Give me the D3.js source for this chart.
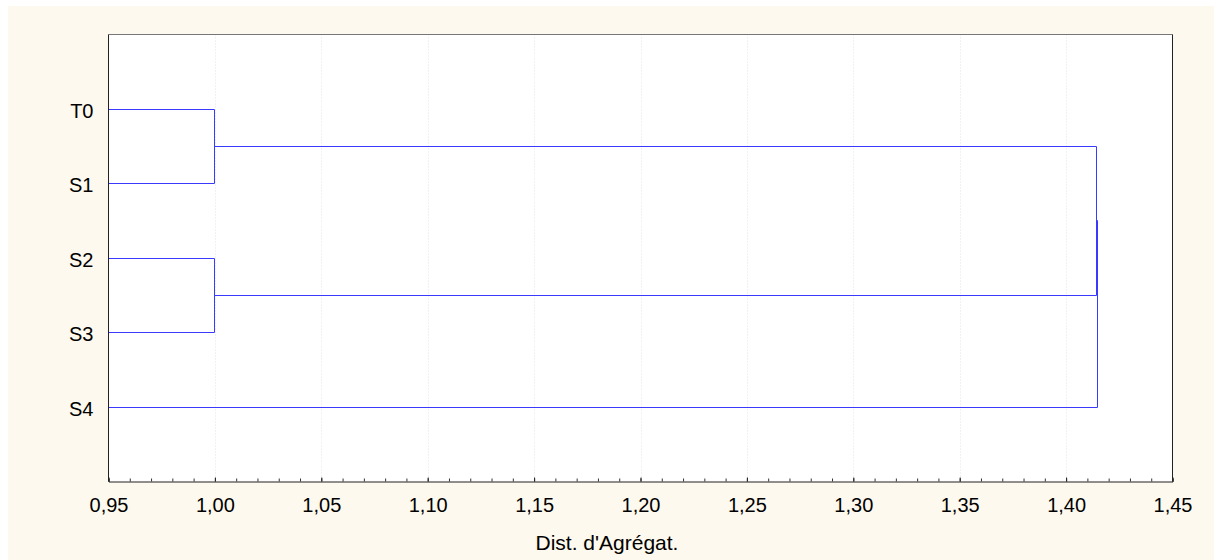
<!DOCTYPE html>
<html>
<head>
<meta charset="utf-8">
<script src="https://cdn.jsdelivr.net/npm/d3@7"></script>
<style>
  html, body { margin: 0; padding: 0; background: #ffffff; }
  svg { display: block; font-family: "Liberation Sans", Arial, sans-serif; }
</style>
</head>
<body>
<svg id="chart" width="1214" height="560"></svg>
<script>
// Leaves, top to bottom
const leaves = ["T0", "S1", "S2", "S3", "S4"];

// Agglomeration steps: [left member, right member, linkage distance]
// Members are leaf names or indices of earlier steps ("#0", "#1", ...)
const mergeLeft  = ["T0", "S2", "#0", "#2"];
const mergeRight = ["S1", "S3", "#1", "S4"];
const mergeDist  = [1.0, 1.0, 1.4142, 1.4146];

// Axis ticks
const tickValues = [0.95, 1.00, 1.05, 1.10, 1.15, 1.20, 1.25, 1.30, 1.35, 1.40, 1.45];
const xDomain = [0.95, 1.45];
const xTitle = "Dist. d'Agrégat.";

const svg = d3.select("#chart");
const W = 1214, H = 560;
const plot = { left: 108.5, right: 1172.5, top: 34.5, bottom: 481.5 };

// Cream page background
svg.append("rect")
  .attr("x", 8).attr("y", 6).attr("width", W - 8).attr("height", H - 6)
  .attr("fill", "#fef9ee");

// White plotting area
svg.append("rect")
  .attr("x", plot.left).attr("y", plot.top)
  .attr("width", plot.right - plot.left).attr("height", plot.bottom - plot.top)
  .attr("fill", "#ffffff");

const x = d3.scaleLinear().domain(xDomain).range([plot.left, plot.right]);
const y = d3.scalePoint().domain(leaves).range([plot.top, plot.bottom]).padding(1);

// Faint dotted guides at major ticks
svg.append("g")
  .selectAll("line")
  .data(tickValues.slice(1, -1))
  .join("line")
  .attr("x1", d => Math.round(x(d)) + 0.5).attr("x2", d => Math.round(x(d)) + 0.5)
  .attr("y1", plot.top).attr("y2", plot.bottom)
  .attr("stroke", "#e2e2e2")
  .attr("stroke-width", 1)
  .attr("stroke-dasharray", "1,2");

// Resolve positions of every node
const nodePos = {};
leaves.forEach(l => { nodePos[l] = { x: x(xDomain[0]), y: y(l) }; });

const links = [];
mergeDist.forEach((d, i) => {
  const a = nodePos[mergeLeft[i]], b = nodePos[mergeRight[i]];
  const mx = x(d);
  links.push([[a.x, a.y], [mx, a.y], [mx, b.y], [b.x, b.y]]);
  nodePos["#" + i] = { x: mx, y: (a.y + b.y) / 2 };
});

const snap = v => Math.round(v - 0.5) + 0.5;
const line = d3.line().x(p => snap(p[0])).y(p => snap(p[1]));

svg.append("g")
  .selectAll("path")
  .data(links)
  .join("path")
  .attr("d", line)
  .attr("fill", "none")
  .attr("stroke", "#3a3aff")
  .attr("stroke-width", 1);

// Plot frame
const frame = svg.append("g").attr("stroke-width", 1).attr("fill", "none");
frame.append("line").attr("x1", plot.left).attr("x2", plot.right).attr("y1", plot.top).attr("y2", plot.top).attr("stroke", "#777777");
frame.append("line").attr("x1", plot.left).attr("x2", plot.left).attr("y1", plot.top).attr("y2", plot.bottom).attr("stroke", "#222222");
frame.append("line").attr("x1", plot.right).attr("x2", plot.right).attr("y1", plot.top).attr("y2", plot.bottom).attr("stroke", "#222222");

// Bottom axis with inward ticks and minor ticks
const minor = d3.range(0, 51).map(i => xDomain[0] + i * 0.01);
svg.append("g")
  .attr("transform", `translate(0,${plot.bottom})`)
  .call(d3.axisBottom(x).tickValues(minor).tickSize(-3).tickFormat(""))
  .call(g => g.select(".domain").attr("stroke", "#222222"))
  .call(g => g.selectAll(".tick line").attr("stroke", "#333333"));

svg.append("g")
  .attr("transform", `translate(0,${plot.bottom})`)
  .call(d3.axisBottom(x).tickValues(tickValues).tickSize(-4).tickPadding(16)
    .tickFormat(d => d3.format(".2f")(d).replace(".", ",")))
  .call(g => g.select(".domain").remove())
  .call(g => g.selectAll(".tick line").attr("stroke", "#222222"))
  .call(g => g.selectAll(".tick text")
    .attr("fill", "#000000")
    .attr("font-size", 20)
    .attr("font-family", "Liberation Sans, Arial, sans-serif"));

// Leaf labels
svg.append("g")
  .attr("transform", `translate(${plot.left},0)`)
  .call(d3.axisLeft(y).tickSize(0).tickPadding(15))
  .call(g => g.select(".domain").remove())
  .call(g => g.selectAll(".tick text")
    .attr("fill", "#000000")
    .attr("font-size", 20)
    .attr("dy", "0.42em")
    .attr("font-family", "Liberation Sans, Arial, sans-serif"));

// Axis title
svg.append("text")
  .attr("x", 607)
  .attr("y", 550)
  .attr("text-anchor", "middle")
  .attr("font-size", 21)
  .attr("fill", "#000000")
  .text(xTitle);
</script>
</body>
</html>
